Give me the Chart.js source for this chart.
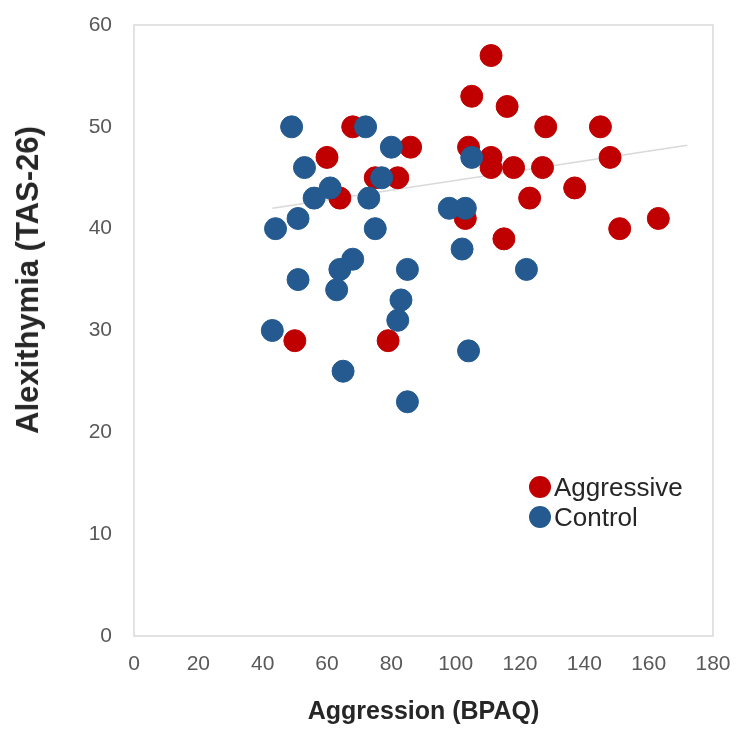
<!DOCTYPE html>
<html>
<head>
<meta charset="utf-8">
<script src="https://cdn.jsdelivr.net/npm/chart.js@4"></script>
<style>
  body { margin: 0; background: #fff; }
  #wrap { position: relative; width: 740px; height: 737px; }
  .legend { position: absolute; left: 529px; top: 472px; font-family: "Liberation Sans", Arial, sans-serif; font-size: 26px; color: #262626; line-height: 30px; }
  .legend span { display: inline-block; width: 22px; height: 22px; border-radius: 50%; vertical-align: -2px; margin-right: 3px; }
  .titulo-y { position: absolute; left: 28px; top: 280px; transform: translate(-50%, -50%) rotate(-90deg); white-space: nowrap;
    font-family: "Liberation Sans", Arial, sans-serif; font-weight: bold; font-size: 31px; color: #262626; }
</style>
</head>
<body>
<div id="wrap">
  <canvas id="grafico" width="740" height="737"></canvas>
  <div class="titulo-y">Alexithymia (TAS-26)</div>
  <div class="legend">
    <div><span style="background:#c00000"></span>Aggressive</div>
    <div><span style="background:#245a8f"></span>Control</div>
  </div>
</div>
<script>
// Dados
const agressivoX = [111, 105, 116, 128, 145, 148, 68, 60, 86, 104, 75, 82, 64, 111, 111, 118, 127, 137, 123, 115, 103, 151, 163, 50, 79];
const agressivoY = [57, 53, 52, 50, 50, 47, 50, 47, 48, 48, 45, 45, 43, 47, 46, 46, 46, 44, 43, 39, 41, 40, 41, 29, 29];
const controleX = [49, 72, 80, 105, 53, 77, 61, 56, 73, 98, 103, 51, 44, 75, 102, 122, 68, 64, 85, 51, 63, 83, 82, 43, 104, 65, 85];
const controleY = [50, 50, 48, 47, 46, 45, 44, 43, 43, 42, 42, 41, 40, 40, 38, 36, 37, 36, 36, 35, 34, 33, 31, 30, 28, 26, 23];
const tendenciaX = [43, 172];
const tendenciaY = [42.0, 48.2];
const ticksX = [0, 20, 40, 60, 80, 100, 120, 140, 160, 180];
const ticksY = [0, 10, 20, 30, 40, 50, 60];

function pontos(xs, ys) {
  return xs.map((x, i) => ({ x: x, y: ys[i] }));
}

// moldura cinza em volta da area do grafico
const moldura = {
  id: "moldura",
  beforeDatasetsDraw(chart) {
    const a = chart.chartArea;
    const ctx = chart.ctx;
    ctx.save();
    ctx.strokeStyle = "#d9d9d9";
    ctx.lineWidth = 1.5;
    ctx.strokeRect(a.left, a.top, a.right - a.left, a.bottom - a.top);
    ctx.restore();
  },
};

const fonteTick = { family: "'Liberation Sans', Arial, sans-serif", size: 21 };
const fonteTitulo = { family: "'Liberation Sans', Arial, sans-serif", size: 25, weight: "bold" };

new Chart(document.getElementById("grafico"), {
  type: "scatter",
  data: {
    datasets: [
      {
        label: "Trend",
        type: "line",
        data: pontos(tendenciaX, tendenciaY),
        borderColor: "#d9d9d9",
        borderWidth: 1.5,
        pointRadius: 0,
        order: 3,
      },
      {
        label: "Control",
        data: pontos(controleX, controleY),
        backgroundColor: "#245a8f",
        borderColor: "#245a8f",
        pointRadius: 11,
        order: 1,
      },
      {
        label: "Aggressive",
        data: pontos(agressivoX, agressivoY),
        backgroundColor: "#c00000",
        borderColor: "#c00000",
        pointRadius: 11,
        order: 2,
      },
    ],
  },
  options: {
    responsive: false,
    animation: false,
    layout: { padding: { top: 25, right: 27, left: 0, bottom: 0 } },
    plugins: {
      legend: { display: false },
      tooltip: { enabled: false },
    },
    scales: {
      x: {
        type: "linear",
        min: 0,
        max: 180,
        afterBuildTicks: (s) => { s.ticks = ticksX.map((v) => ({ value: v })); },
        afterFit: (s) => { s.height = 101; s.paddingLeft = 0; s.paddingRight = 0; },
        grid: { display: false, drawTicks: false },
        border: { display: false },
        ticks: { color: "#595959", font: fonteTick, padding: 16, maxRotation: 0 },
        title: { display: true, text: "Aggression (BPAQ)", color: "#262626", font: fonteTitulo, padding: { top: 4, bottom: 10 } },
      },
      y: {
        min: 0,
        max: 60,
        afterBuildTicks: (s) => { s.ticks = ticksY.map((v) => ({ value: v })); },
        afterFit: (s) => { s.width = 134; s.paddingTop = 0; s.paddingBottom = 0; },
        grid: { display: false, drawTicks: false },
        border: { display: false },
        ticks: { color: "#595959", font: fonteTick, padding: 22 },
        title: { display: false },
      },
    },
  },
  plugins: [moldura],
});
</script>
</body>
</html>
